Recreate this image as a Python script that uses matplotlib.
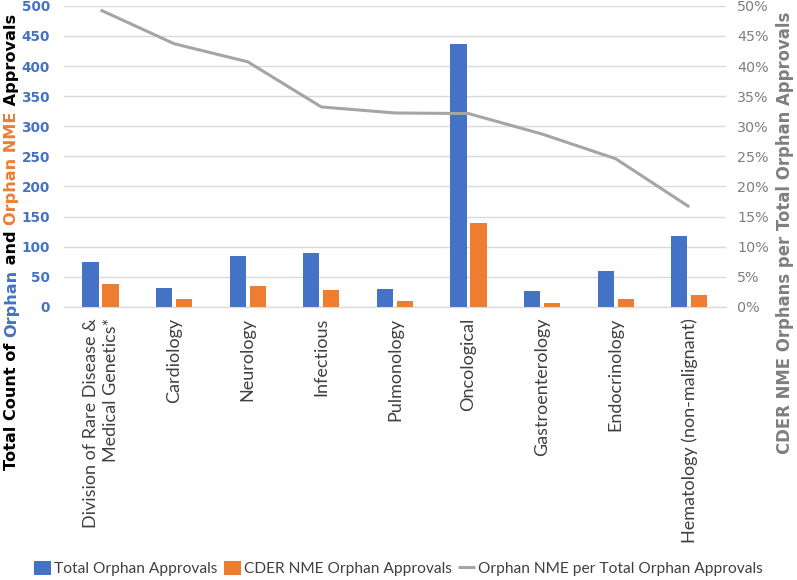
import matplotlib
matplotlib.use("Agg")
import matplotlib.pyplot as plt
import numpy as np

# data
categories = [
    "Division of Rare Disease &\nMedical Genetics*",
    "Cardiology",
    "Neurology",
    "Infectious",
    "Pulmonology",
    "Oncological",
    "Gastroenterology",
    "Endocrinology",
    "Hematology (non-malignant)",
]
total_orphan = [75, 32, 85, 90, 30, 437, 27, 60, 118]
cder_nme_orphan = [38, 13, 35, 28, 9, 140, 7, 13, 20]
nme_share = [0.493, 0.437, 0.407, 0.332, 0.322, 0.321, 0.287, 0.246, 0.166]

left_ticks = list(range(0, 501, 50))
right_ticks = [i / 100 for i in range(0, 51, 5)]

BLUE = "#4472C4"
ORANGE = "#ED7D31"
GRAY = "#A5A5A5"
TXT_GRAY = "#7F7F7F"

fig = plt.figure(figsize=(7.97, 5.80), dpi=100)
ax = fig.add_axes([0.080, 0.471, 0.831, 0.519])
ax2 = ax.twinx()

x = np.arange(len(categories))
w = 0.22
off = 0.136
ax.bar(x - off, total_orphan, w, color=BLUE, label="Total Orphan Approvals", zorder=3)
ax.bar(x + off, cder_nme_orphan, w, color=ORANGE, label="CDER NME Orphan Approvals", zorder=3)
line, = ax2.plot(x, nme_share, color=GRAY, lw=2.2, solid_capstyle="butt",
                 label="Orphan NME per Total Orphan Approvals")

ax.set_xlim(-0.5, len(categories) - 0.5)
ax.set_ylim(0, 500)
ax2.set_ylim(0, 0.5)
ax.set_yticks(left_ticks)
ax2.set_yticks(right_ticks)
ax2.set_yticklabels([f"{int(round(t * 100))}%" for t in right_ticks])

ax.grid(axis="y", color="#D9D9D9", lw=1, zorder=0)
ax.set_axisbelow(True)
for a in (ax, ax2):
    for s in ("top", "left", "right"):
        a.spines[s].set_visible(False)
    a.spines["bottom"].set_color("#D9D9D9")
    a.tick_params(length=0)

ax.tick_params(axis="y", labelcolor=BLUE, labelsize=9.8, pad=10)
for t in ax.get_yticklabels():
    t.set_fontweight("bold")
ax2.tick_params(axis="y", labelcolor=TXT_GRAY, labelsize=10.3, pad=8)

ax.set_xticks(x)
ax.set_xticklabels(categories, rotation=90, fontsize=13, color="#404040",
                   family="Lato", va="top", ha="center", multialignment="right",
                   linespacing=1.3)
ax.tick_params(axis="x", pad=8)

# right axis title
fig.text(0.985, 1 - 233 / 580, "CDER NME Orphans per Total Orphan Approvals",
         rotation=90, ha="center", va="center", color=TXT_GRAY,
         fontsize=11.9, fontweight="bold")

# left axis title, multi coloured pieces stacked upwards
pieces = [("Total Count of ", "black"), ("Orphan", BLUE), (" and ", "black"),
          ("Orphan NME", ORANGE), (" Approvals", "black")]
fig.canvas.draw()
renderer = fig.canvas.get_renderer()
y0 = 1 - 470 / 580
for txt, col in pieces:
    t = fig.text(0.015, y0, txt, rotation=90, ha="center", va="bottom",
                 color=col, fontsize=11.6, fontweight="bold")
    bb = t.get_window_extent(renderer).transformed(fig.transFigure.inverted())
    y0 = bb.y1

handles = ax.get_legend_handles_labels()[0] + [line]
fig.legend(handles=handles, labels=[h.get_label() for h in handles],
           loc="lower center", bbox_to_anchor=(0.5, -0.018), ncol=3, frameon=False,
           prop={"family": "Lato", "size": 11.2}, handlelength=1.1, handleheight=1.0,
           handletextpad=0.2, columnspacing=0.4, labelcolor="#404040")

fig.savefig("out.png", dpi=100)
